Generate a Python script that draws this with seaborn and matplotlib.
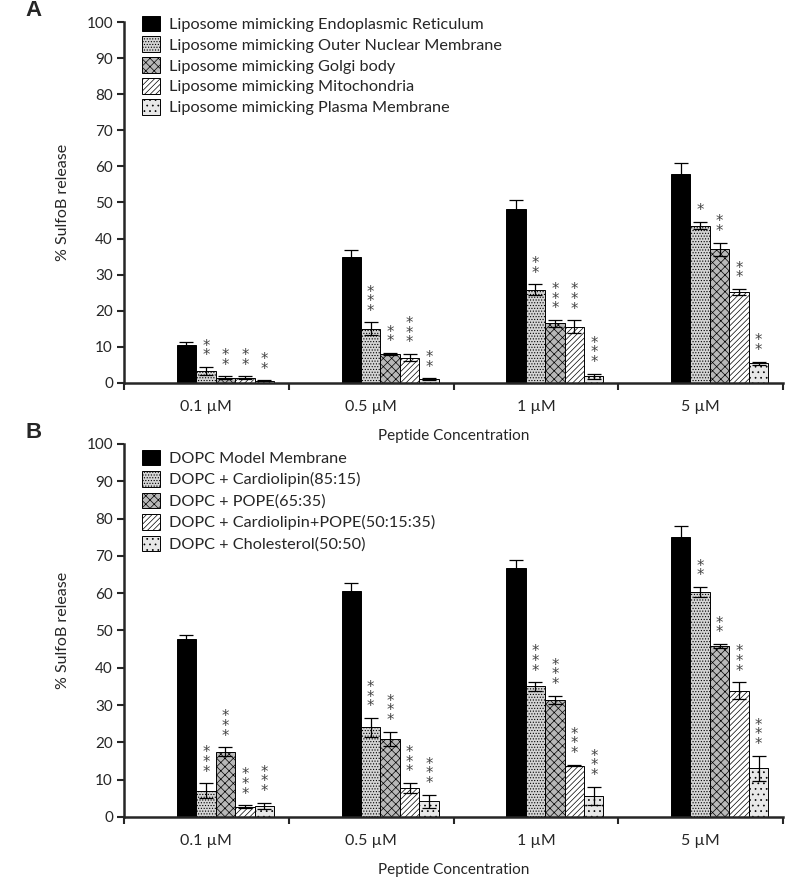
import numpy as np
import pandas as pd
import matplotlib
matplotlib.use("Agg")
import matplotlib.pyplot as plt
import seaborn as sns
from matplotlib.patches import Patch

# data
concs = ["0.1 µM", "0.5 µM", "1 µM", "5 µM"]

a_series = ["Liposome mimicking Endoplasmic Reticulum",
            "Liposome mimicking Outer Nuclear Membrane",
            "Liposome mimicking Golgi body",
            "Liposome mimicking Mitochondria",
            "Liposome mimicking Plasma Membrane"]
a_values = [[10.5, 35.0, 48.2, 58.0],
            [3.3, 15.0, 25.8, 43.6],
            [1.5, 8.0, 16.5, 37.1],
            [1.5, 7.0, 15.6, 25.3],
            [0.6, 1.0, 1.8, 5.4]]
a_errors = [[0.8, 1.8, 2.5, 3.0],
            [1.2, 1.8, 1.5, 1.0],
            [0.3, 0.3, 1.0, 1.8],
            [0.3, 1.0, 1.8, 0.8],
            [0.1, 0.3, 0.8, 0.5]]
a_stars = [["", "", "", ""],
           ["**", "***", "**", "*"],
           ["**", "**", "***", "**"],
           ["**", "***", "***", "**"],
           ["**", "**", "***", "**"]]

b_series = ["DOPC Model Membrane",
            "DOPC + Cardiolipin(85:15)",
            "DOPC + POPE(65:35)",
            "DOPC + Cardiolipin+POPE(50:15:35)",
            "DOPC + Cholesterol(50:50)"]
b_values = [[47.7, 60.5, 66.8, 75.0],
            [7.0, 24.0, 35.0, 60.3],
            [17.5, 20.9, 31.4, 45.9],
            [2.8, 7.7, 13.8, 33.9],
            [3.0, 4.2, 5.6, 13.0]]
b_errors = [[1.1, 2.3, 2.0, 3.0],
            [2.0, 2.5, 1.1, 1.3],
            [1.2, 2.0, 1.1, 0.5],
            [0.3, 1.4, 0.2, 2.2],
            [0.8, 1.8, 2.5, 3.4]]
b_stars = [["", "", "", ""],
           ["***", "***", "***", "**"],
           ["***", "***", "***", "**"],
           ["***", "***", "***", "***"],
           ["***", "***", "***", "***"]]

# fill + hatch for the five series
fills = ["black", "#d4d4d4", "#b8b8b8", "white", "#e8e8e8"]
hatches = [None, "......", "xxxx", "//////", "..."]

sns.set_style("ticks")
plt.rcParams["font.family"] = ["Lato", "DejaVu Sans"]
plt.rcParams["hatch.linewidth"] = 0.5


def drawPanel(ax, series, values, errors, stars, letter, leg_top, leg_space):
    rows = []
    for s, vals in zip(series, values):
        for c, v in zip(concs, vals):
            rows.append({"conc": c, "value": v, "series": s})
    df = pd.DataFrame(rows)
    sns.barplot(data=df, x="conc", y="value", hue="series", order=concs,
                hue_order=series, width=0.59, errorbar=None, legend=False,
                saturation=1, edgecolor="black", linewidth=0.7, ax=ax)

    bar_conts = list(ax.containers)   # copy before errorbars get added
    for i, cont in enumerate(bar_conts):
        for j, bar in enumerate(cont):
            bar.set_x(bar.get_x() + 0.115)
            bar.set_facecolor(fills[i])
            if hatches[i]:
                bar.set_hatch(hatches[i])
            cx = bar.get_x() + bar.get_width() / 2
            top = bar.get_height()
            ax.errorbar(cx, top, yerr=errors[i][j], color="black", lw=0.9,
                        capsize=5, capthick=0.9, zorder=5)
            if stars[i][j]:
                ax.text(cx, top + errors[i][j] + 1.0, "\n".join(stars[i][j]),
                        ha="center", va="bottom", fontsize=10.5, color="#444444",
                        linespacing=0.55, family="DejaVu Sans")

    ax.set_ylim(0, 100)
    ax.set_xlim(-0.5, 3.5)
    ax.set_yticks(range(0, 101, 10))
    ax.set_xticks(range(4))
    ax.set_xticklabels(concs)
    ax.set_xticks([-0.5, 0.5, 1.5, 2.5, 3.5], minor=True)
    ax.tick_params(axis="x", which="major", length=0, pad=12, labelsize=11.5)
    ax.tick_params(axis="x", which="minor", length=5, width=1.5, direction="out")
    ax.tick_params(axis="y", length=5, width=1.5, pad=3, labelsize=11)
    sns.despine(ax=ax)
    for sp in ["left", "bottom"]:
        ax.spines[sp].set_linewidth(1.8)
    ax.set_ylabel("% SulfoB release", fontsize=11.5, labelpad=12)
    ax.set_xlabel("Peptide Concentration", fontsize=11, labelpad=11)

    handles = [Patch(facecolor=fills[i], edgecolor="black", hatch=hatches[i],
                     linewidth=0.7, label=series[i]) for i in range(5)]
    ax.legend(handles=handles, loc="upper left", bbox_to_anchor=(0.028, leg_top),
              frameon=False, fontsize=11.7, handlelength=1.1, handleheight=1.1,
              handletextpad=0.55, labelspacing=leg_space, borderpad=0,
              borderaxespad=0)
    ax.text(-0.15, 1.06, letter, transform=ax.transAxes, fontsize=16,
            fontweight="bold", family="Liberation Sans", va="top", ha="left")


fig = plt.figure(figsize=(7.87, 8.8), dpi=100)
axA = fig.add_axes([0.1576, 0.5648, 0.8374, 0.4102])
axB = fig.add_axes([0.1576, 0.0716, 0.8374, 0.4239])

drawPanel(axA, a_series, a_values, a_errors, a_stars, "A", 1.018, 0.28)
drawPanel(axB, b_series, b_values, b_errors, b_stars, "B", 0.985, 0.32)

fig.savefig("out.png", dpi=100)
